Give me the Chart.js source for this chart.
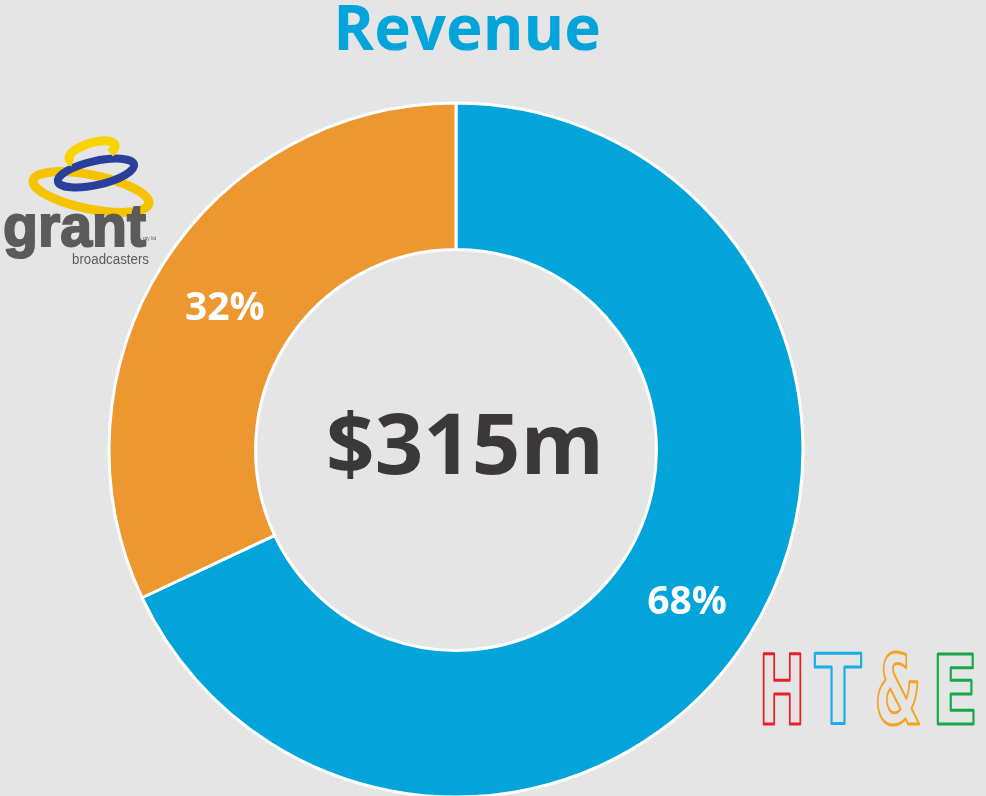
<!DOCTYPE html>
<html>
<head>
<meta charset="utf-8">
<script src="https://cdn.jsdelivr.net/npm/chart.js@4/dist/chart.umd.min.js"></script>
<style>
    html, body { margin: 0; padding: 0; background: #e5e5e5; }
    #wrap { width: 986px; height: 796px; }
</style>
</head>
<body>
<div id="wrap"><canvas id="revenue" width="986" height="796"></canvas></div>
<script>
// Revenue split (percent)
const segments = ['HT&E', 'Grant Broadcasters'];
const shares = [68, 32];
const segmentColors = ['#02a4da', '#ec972f'];
const totalLabel = '$315m';
const chartTitle = 'Revenue';

// Title, centre total, logos and the % labels on each slice
const decorations = {
    id: 'decorations',
    afterDraw(chart) {
        const ctx = chart.ctx;
        const meta = chart.getDatasetMeta(0);
        ctx.save();

        // title
        ctx.fillStyle = '#02a4da';
        ctx.font = 'bold 62px "Open Sans"';
        ctx.textAlign = 'center';
        ctx.textBaseline = 'alphabetic';
        ctx.fillText(chartTitle, 467, 50);

        // centre total
        const c = meta.data[0];
        ctx.fillStyle = '#3a3839';
        ctx.font = 'bold 85px "Open Sans"';
        ctx.fillText(totalLabel, c.x + 9, 474);

        // percentage labels
        ctx.fillStyle = '#ffffff';
        ctx.font = 'bold 39px "Open Sans"';
        meta.data.forEach((arc, i) => {
            const p = arc.tooltipPosition();
            ctx.fillText(shares[i] + '%', p.x, p.y + 17);
        });

        // grant broadcasters logo
        ctx.lineWidth = 9;
        ctx.strokeStyle = '#f7c300';
        ctx.beginPath();
        ctx.ellipse(91, 192, 59, 17, 0.2, 0, Math.PI * 2);
        ctx.stroke();
        ctx.strokeStyle = '#2a3f9a';
        ctx.lineWidth = 8;
        ctx.beginPath();
        ctx.ellipse(96, 173, 39, 12, -0.22, 0, Math.PI * 2);
        ctx.stroke();
        ctx.strokeStyle = '#fad400';
        ctx.lineWidth = 9;
        ctx.beginPath();
        ctx.ellipse(92, 152, 24, 9, -0.3, Math.PI * 0.85, Math.PI * 2.25);
        ctx.stroke();

        ctx.fillStyle = '#5b5b5d';
        ctx.textAlign = 'left';
        ctx.textBaseline = 'alphabetic';
        ctx.font = 'bold 60px "Liberation Sans"';
        ctx.lineWidth = 2;
        ctx.strokeStyle = '#5b5b5d';
        ctx.fillText('grant', 3, 246, 143);
        ctx.strokeText('grant', 3, 246, 143);
        ctx.font = '14px "Liberation Sans"';
        ctx.fillText('broadcasters', 72, 264, 77);
        ctx.font = '5px "Liberation Sans"';
        ctx.fillText('pty ltd', 143, 240);

        // HT&E logo
        const letters = [['H', 782, '#e8202a'], ['T', 838, '#19aee8'], ['&', 898, '#f6a325'], ['E', 955, '#18a84a']];
        ctx.font = 'bold 96px "DejaVu Sans"';
        ctx.textAlign = 'center';
        ctx.lineWidth = 3;
        ctx.lineJoin = 'round';
        letters.forEach(([ch, x, col]) => {
            ctx.strokeStyle = col;
            ctx.strokeText(ch, x, 724, 47);
        });

        ctx.restore();
    }
};

new Chart(document.getElementById('revenue'), {
    type: 'doughnut',
    data: {
        labels: segments,
        datasets: [{
            data: shares,
            backgroundColor: segmentColors,
            borderColor: '#ffffff',
            borderWidth: 3,
            hoverOffset: 0
        }]
    },
    options: {
        responsive: false,
        animation: false,
        radius: 347,
        cutout: 199,
        layout: {
            padding: { left: 0, right: 74, top: 104, bottom: 0 }
        },
        plugins: {
            legend: { display: false },
            title: { display: false },
            tooltip: { enabled: false }
        }
    },
    plugins: [decorations]
});
</script>
</body>
</html>
